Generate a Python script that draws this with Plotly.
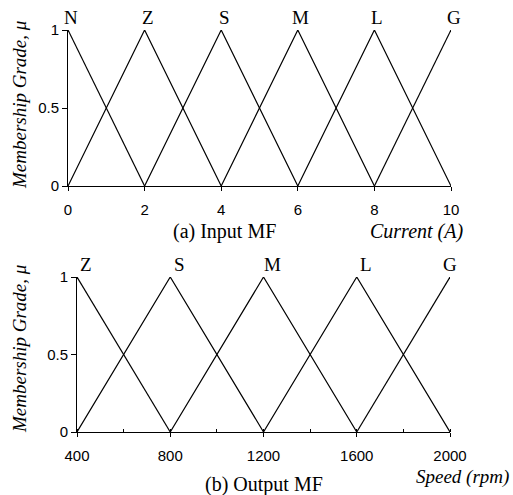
import plotly.graph_objects as go

# ---- data ----
input_labels = ["N", "Z", "S", "M", "L", "G"]
input_centers = [0, 2, 4, 6, 8, 10]
input_halfwidth = 2
input_ticks = [0, 2, 4, 6, 8, 10]

output_labels = ["Z", "S", "M", "L", "G"]
output_centers = [400, 800, 1200, 1600, 2000]
output_halfwidth = 400
output_ticks = [400, 800, 1200, 1600, 2000]

y_ticks = [0, 0.5, 1]
y_ticktext = ["0", "0.5", "1"]

W, H = 513, 495
TIMES = "Liberation Serif, Times New Roman, serif"
ARIAL = "Liberation Sans, Arial, sans-serif"


def tri(c, hw, lo, hi):
    xs, ys = [], []
    a, b = c - hw, c + hw
    if a >= lo:
        xs.append(a); ys.append(0)
    xs.append(c); ys.append(1)
    if b <= hi:
        xs.append(b); ys.append(0)
    return xs, ys


fig = go.Figure()

for c in input_centers:
    xs, ys = tri(c, input_halfwidth, input_centers[0], input_centers[-1])
    fig.add_trace(go.Scatter(x=xs, y=ys, mode="lines", xaxis="x", yaxis="y",
                             line=dict(color="black", width=1.2), showlegend=False,
                             hoverinfo="skip"))
for c in output_centers:
    xs, ys = tri(c, output_halfwidth, output_centers[0], output_centers[-1])
    fig.add_trace(go.Scatter(x=xs, y=ys, mode="lines", xaxis="x2", yaxis="y2",
                             line=dict(color="black", width=1.2), showlegend=False,
                             hoverinfo="skip"))


def px(x):
    return x / W


def py(y):
    return 1 - y / H


axis_common = dict(showgrid=False, zeroline=False, showline=True, linecolor="black",
                   linewidth=1, ticks="outside", tickcolor="black", tickwidth=1,
                   automargin=False,
                   tickfont=dict(family=ARIAL, size=15, color="black"))

fig.update_layout(
    width=W, height=H, margin=dict(l=0, r=0, t=0, b=0, pad=0, autoexpand=False),
    plot_bgcolor="white", paper_bgcolor="white",
    xaxis=dict(domain=[px(68), px(451)], range=[0, 10], anchor="y",
               tickvals=input_ticks, ticklen=4, ticklabelstandoff=6, **axis_common),
    yaxis=dict(domain=[py(186), py(30)], range=[0, 1], anchor="x",
               tickvals=y_ticks, ticktext=y_ticktext, ticklen=5, ticklabelstandoff=0,
               **axis_common),
    xaxis2=dict(domain=[px(77), px(450)], range=[400, 2000], anchor="y2",
                tickvals=output_ticks, ticklen=4, ticklabelstandoff=6,
                minor=dict(dtick=200, tick0=400, ticks="inside", ticklen=3,
                           tickcolor="black", tickwidth=1),
                **axis_common),
    yaxis2=dict(domain=[py(432), py(277)], range=[0, 1], anchor="x2",
                tickvals=y_ticks, ticktext=y_ticktext, ticklen=5, ticklabelstandoff=0,
                **axis_common),
)

FS = 19
FC = 20
ann = []
for lab, c in zip(input_labels, input_centers):
    ann.append(dict(x=c, y=1, xref="x", yref="y", text=lab, showarrow=False,
                    xanchor="center", yanchor="bottom", xshift=3, yshift=0,
                    font=dict(family=TIMES, size=FS, color="black")))
for i, (lab, c) in enumerate(zip(output_labels, output_centers)):
    last = i == len(output_labels) - 1
    ann.append(dict(x=c, y=1, xref="x2", yref="y2", text=lab, showarrow=False,
                    xanchor="center", yanchor="bottom", xshift=0 if last else 9, yshift=0,
                    font=dict(family=TIMES, size=FS, color="black")))

ann += [
    dict(x=px(224), y=py(231), xref="paper", yref="paper", text="(a) Input MF",
         showarrow=False, xanchor="center", yanchor="middle",
         font=dict(family=TIMES, size=FC, color="black")),
    dict(x=px(416), y=py(231), xref="paper", yref="paper", text="<i>Current (A)</i>",
         showarrow=False, xanchor="center", yanchor="middle",
         font=dict(family=TIMES, size=FC, color="black")),
    dict(x=px(264), y=py(484), xref="paper", yref="paper", text="(b) Output MF",
         showarrow=False, xanchor="center", yanchor="middle",
         font=dict(family=TIMES, size=FC, color="black")),
    dict(x=px(511), y=py(477), xref="paper", yref="paper", text="<i>Speed (rpm)</i>",
         showarrow=False, xanchor="right", yanchor="middle",
         font=dict(family=TIMES, size=FS, color="black")),
    dict(x=px(19), y=py(105), xref="paper", yref="paper", text="<i>Membership Grade, μ</i>",
         showarrow=False, textangle=-90, xanchor="center", yanchor="middle",
         font=dict(family=TIMES, size=FS, color="black")),
    dict(x=px(19), y=py(349), xref="paper", yref="paper", text="<i>Membership Grade, μ</i>",
         showarrow=False, textangle=-90, xanchor="center", yanchor="middle",
         font=dict(family=TIMES, size=FS, color="black")),
]
fig.update_layout(annotations=ann)

fig.write_html("out.html", config={"displayModeBar": False},
               post_script="document.body.style.margin='0';document.body.style.overflow='hidden';")
